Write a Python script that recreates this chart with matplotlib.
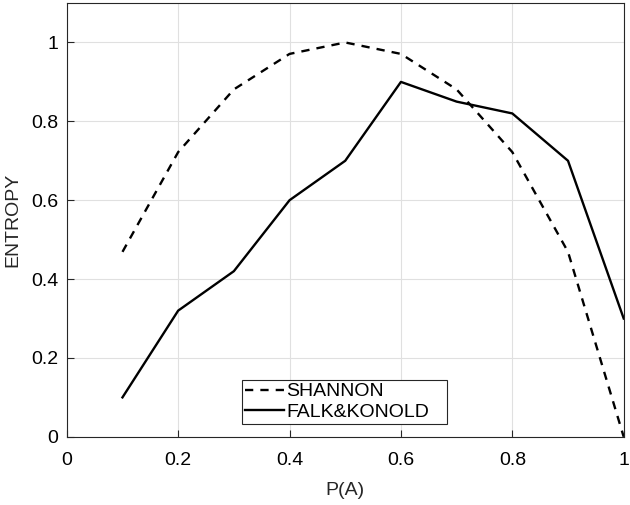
import matplotlib
matplotlib.use("Agg")
import matplotlib.pyplot as plt

p = [0.1, 0.2, 0.3, 0.4, 0.5, 0.6, 0.7, 0.8, 0.9, 1.0]
shannon = [0.469, 0.722, 0.881, 0.971, 1.0, 0.971, 0.881, 0.722, 0.469, 0.0]
falk_konold = [0.10, 0.32, 0.42, 0.60, 0.70, 0.90, 0.85, 0.82, 0.70, 0.30]
xticks = [0, 0.2, 0.4, 0.6, 0.8, 1]
yticks = [0, 0.2, 0.4, 0.6, 0.8, 1]

plt.rcParams['font.family'] = ['Liberation Sans', 'DejaVu Sans']
fig = plt.figure(figsize=(6.3, 5.05), dpi=100)
ax = fig.add_axes([0.106, 0.135, 0.884, 0.859])
ax.plot(p, shannon, 'k--', lw=1.7, label='SHANNON', dashes=(3.5, 3))
ax.plot(p, falk_konold, 'k-', lw=1.7, label='FALK&KONOLD')
ax.set_xlim(0, 1)
ax.set_ylim(0, 1.1)
ax.set_xticks(xticks)
ax.set_xticklabels(['0', '0.2', '0.4', '0.6', '0.8', '1'])
ax.set_yticks(yticks)
ax.set_yticklabels(['0', '0.2', '0.4', '0.6', '0.8', '1'])
ax.grid(True, color='#e0e0e0', lw=0.8)
ax.set_axisbelow(True)
ax.tick_params(direction='in', length=5, labelsize=14, color='#262626', width=0.8)
ax.tick_params(axis='x', pad=11)
ax.tick_params(axis='y', pad=6)
for s in ax.spines.values():
    s.set_color('#262626')
    s.set_linewidth(0.8)
ax.set_xlabel('P(A)', fontsize=14, color='#262626', labelpad=9)
ax.set_ylabel('ENTROPY', fontsize=14, color='#262626', labelpad=7)
leg = ax.legend(loc='lower left', bbox_to_anchor=(0.315, 0.03, 0.368, 0.136), mode='expand',
                fontsize=14, fancybox=False, edgecolor='#262626', framealpha=1,
                handlelength=2.0, handletextpad=0.1, borderpad=0.15, labelspacing=0.15, borderaxespad=0)
leg.get_frame().set_linewidth(0.8)
fig.savefig('out.png', dpi=100)
